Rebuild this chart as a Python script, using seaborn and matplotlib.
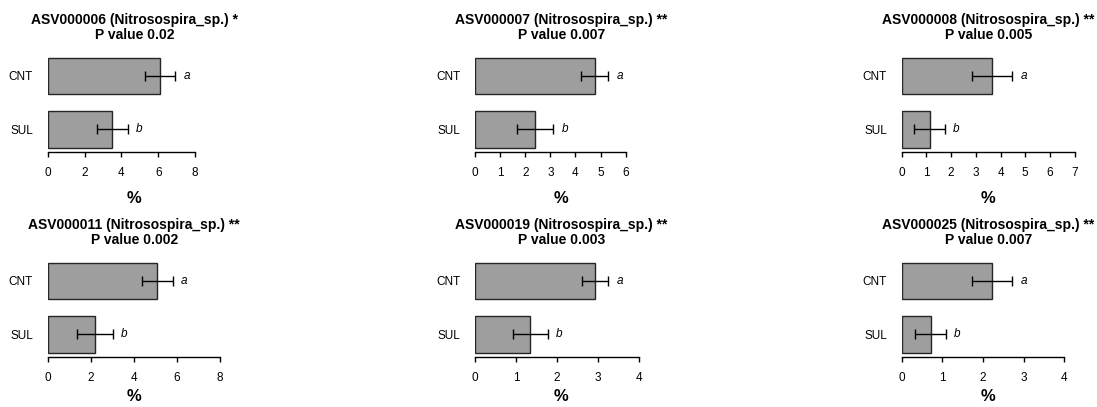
import matplotlib
matplotlib.use("Agg")
import matplotlib.pyplot as plt
import seaborn as sns
import pandas as pd

sns.set_style("white")
plt.rcParams["font.family"] = ["Liberation Sans", "DejaVu Sans"]
plt.rcParams["text.color"] = "black"
plt.rcParams["axes.labelcolor"] = "black"
plt.rcParams["xtick.color"] = "black"
plt.rcParams["ytick.color"] = "black"

# ---- data ----
asv_ids = ["ASV000006", "ASV000007", "ASV000008", "ASV000011", "ASV000019", "ASV000025"]
taxon = "Nitrosospira_sp."
stars = ["*", "**", "**", "**", "**", "**"]
p_values = ["0.02", "0.007", "0.005", "0.002", "0.003", "0.007"]
groups = ["CNT", "SUL"]
mean_cnt = [6.10, 4.77, 3.67, 5.08, 2.92, 2.22]
mean_sul = [3.50, 2.39, 1.13, 2.18, 1.35, 0.71]
se_cnt = [0.80, 0.53, 0.81, 0.72, 0.32, 0.50]
se_sul = [0.83, 0.73, 0.62, 0.84, 0.42, 0.38]
letters_cnt = ["a"] * 6
letters_sul = ["b"] * 6
tick_max = [8, 6, 7, 8, 4, 4]
tick_step = [2, 1, 1, 2, 1, 1]

# ---- layout (pixels) ----
W, H = 1097, 407
fig = plt.figure(figsize=(W / 100, H / 100), dpi=100)
left_px = [47.7, 475.0, 901.7]
bottom_px = [152.0, 357.0]
label_pad = [9, 4]
ax_w, ax_h = 173.0, 107.0
xlim_max = [9.38, 6.89, 6.99, 8.03, 4.21, 4.26]

bar_color = "#9e9e9e"
edge_color = "#262626"

for i in range(6):
    r, c = divmod(i, 3)
    l = left_px[c] / W
    b = 1 - bottom_px[r] / H
    ax = fig.add_axes([l, b, ax_w / W, ax_h / H])
    df = pd.DataFrame({"group": groups, "value": [mean_cnt[i], mean_sul[i]]})
    sns.barplot(data=df, x="value", y="group", orient="h", color=bar_color,
                edgecolor=edge_color, linewidth=1.0, width=0.68, ax=ax,
                saturation=1, errorbar=None)
    means = [mean_cnt[i], mean_sul[i]]
    ses = [se_cnt[i], se_sul[i]]
    ax.errorbar(means, [0, 1], xerr=ses, fmt="none", ecolor="black",
                elinewidth=1.0, capsize=3.8, capthick=1.0)
    for yy, m, s, let in zip([0, 1], means, ses, [letters_cnt[i], letters_sul[i]]):
        ax.annotate(let, xy=(m + s, yy), xytext=(6, 0), textcoords="offset points",
                    ha="left", va="center", fontsize=8.5, style="italic")
    ax.set_xlim(0, xlim_max[i])
    ax.set_ylim(1.42, -0.575)
    ticks = list(range(0, tick_max[i] + 1, tick_step[i]))
    ax.set_xticks(ticks)
    ax.set_xticklabels([str(t) for t in ticks])
    for sp in ["left", "right", "top"]:
        ax.spines[sp].set_visible(False)
    ax.spines["bottom"].set_bounds(0, tick_max[i])
    ax.spines["bottom"].set_color("black")
    ax.spines["bottom"].set_linewidth(1.0)
    ax.tick_params(axis="x", bottom=True, length=3.6, width=1.0, pad=7,
                   labelsize=8.5, colors="black")
    ax.tick_params(axis="y", left=False, length=0, pad=10.5, labelsize=8.5,
                   colors="black")
    ax.set_ylabel("")
    ax.set_xlabel("%", fontsize=12, fontweight="bold", labelpad=label_pad[r])
    ax.set_title(f"{asv_ids[i]} ({taxon}) {stars[i]}\nP value {p_values[i]}",
                 fontsize=10, fontweight="bold", pad=4, linespacing=1.15)

fig.savefig("out.png", dpi=100, facecolor="white")
